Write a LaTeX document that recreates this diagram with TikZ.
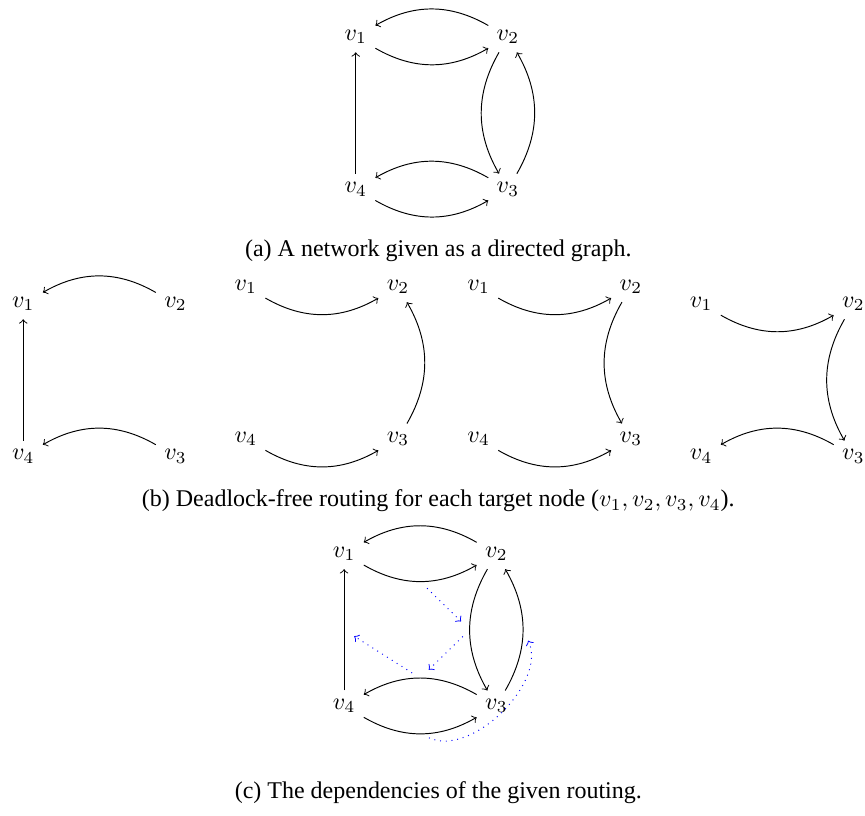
\documentclass[tikz,border=0pt]{standalone}
\usepackage[no-math]{fontspec}
\setmainfont{Liberation Serif}

\begin{document}
\begin{tikzpicture}[>=to, link/.style={->}, dep/.style={->, blue, dotted, shorten <=4pt, shorten >=5pt}]
    \useasboundingbox (0,0) rectangle (12.67,-11.94);

    % (a) the network
    \begin{scope}[shift={(5.21,-0.54)}]
        \node (a1) at (0,0) {$v_1$};
        \node (a2) at (2.23,0) {$v_2$};
        \node (a3) at (2.23,-2.23) {$v_3$};
        \node (a4) at (0,-2.23) {$v_4$};
        \draw[link] (a1) to[bend right] (a2);
        \draw[link] (a2) to[bend right] (a1);
        \draw[link] (a2) to[bend right] (a3);
        \draw[link] (a3) to[bend right] (a2);
        \draw[link] (a3) to[bend right] (a4);
        \draw[link] (a4) to[bend right] (a3);
        \draw[link] (a4) -- (a1);
    \end{scope}
    \node (capa) at (6.42,-3.68) {(a) A network given as a directed graph.};

    % (b) routing towards v1
    \begin{scope}[shift={(0.34,-4.45)}]
        \node (p1) at (0,0) {$v_1$};
        \node (p2) at (2.23,0) {$v_2$};
        \node (p3) at (2.23,-2.23) {$v_3$};
        \node (p4) at (0,-2.23) {$v_4$};
        \draw[link] (p2) to[bend right] (p1);
        \draw[link] (p3) to[bend right] (p4);
        \draw[link] (p4) -- (p1);
    \end{scope}

    % routing towards v2
    \begin{scope}[shift={(3.60,-4.20)}]
        \node (q1) at (0,0) {$v_1$};
        \node (q2) at (2.23,0) {$v_2$};
        \node (q3) at (2.23,-2.23) {$v_3$};
        \node (q4) at (0,-2.23) {$v_4$};
        \draw[link] (q1) to[bend right] (q2);
        \draw[link] (q3) to[bend right] (q2);
        \draw[link] (q4) to[bend right] (q3);
    \end{scope}

    % routing towards v3
    \begin{scope}[shift={(7.01,-4.20)}]
        \node (r1) at (0,0) {$v_1$};
        \node (r2) at (2.23,0) {$v_2$};
        \node (r3) at (2.23,-2.23) {$v_3$};
        \node (r4) at (0,-2.23) {$v_4$};
        \draw[link] (r1) to[bend right] (r2);
        \draw[link] (r2) to[bend right] (r3);
        \draw[link] (r4) to[bend right] (r3);
    \end{scope}

    % routing towards v4
    \begin{scope}[shift={(10.27,-4.45)}]
        \node (s1) at (0,0) {$v_1$};
        \node (s2) at (2.23,0) {$v_2$};
        \node (s3) at (2.23,-2.23) {$v_3$};
        \node (s4) at (0,-2.23) {$v_4$};
        \draw[link] (s1) to[bend right] (s2);
        \draw[link] (s2) to[bend right] (s3);
        \draw[link] (s3) to[bend right] (s4);
    \end{scope}
    \node (capb) at (6.42,-7.34) {(b) Deadlock-free routing for each target node ($v_1, v_2, v_3, v_4$).};

    % (c) the dependencies
    \begin{scope}[shift={(5.04,-8.11)}]
        \node (c1) at (0,0) {$v_1$};
        \node (c2) at (2.23,0) {$v_2$};
        \node (c3) at (2.23,-2.23) {$v_3$};
        \node (c4) at (0,-2.23) {$v_4$};
        \draw[link] (c1) to[bend right] coordinate (m12) (c2);
        \draw[link] (c2) to[bend right] (c1);
        \draw[link] (c2) to[bend right] coordinate (m23) (c3);
        \draw[link] (c3) to[bend right] coordinate (m32) (c2);
        \draw[link] (c3) to[bend right] coordinate (m34) (c4);
        \draw[link] (c4) to[bend right] coordinate (m43) (c3);
        \draw[link] (c4) -- coordinate (m41) (c1);
        % dependencies between the links
        \draw[dep] (m12) -- (m23);
        \draw[dep] (m23) -- (m34);
        \draw[dep] (m34) -- (m41);
        \draw[dep] (m43) to[bend right=70] (m32);
    \end{scope}
    \node (capc) at (6.42,-11.61) {(c) The dependencies of the given routing.};
\end{tikzpicture}
\end{document}
